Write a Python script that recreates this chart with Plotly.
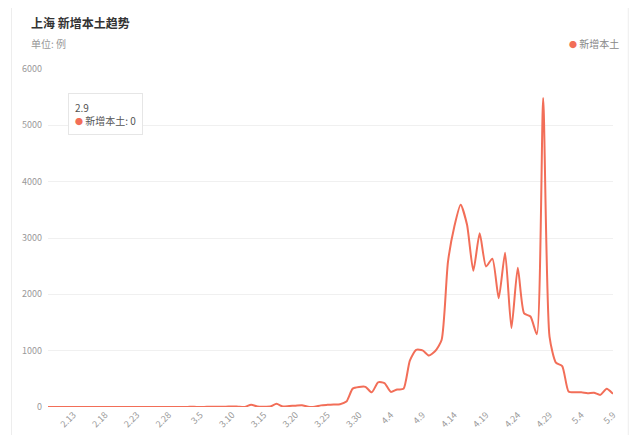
import plotly.graph_objects as go

# ---- data ----
feb_dates = [f"2.{d}" for d in range(9, 29)]
mar_dates = [f"3.{d}" for d in range(1, 32)]
apr_dates = [f"4.{d}" for d in range(1, 31)]
may_dates = [f"5.{d}" for d in range(1, 10)]
dates = feb_dates + mar_dates + apr_dates + may_dates

feb_vals = [0, 0, 0, 0, 0, 0, 0, 0, 0, 0, 0, 0, 0, 0, 0, 0, 0, 0, 1, 0]
mar_vals = [1, 2, 2, 3, 0, 3, 4, 3, 4, 11, 5, 1, 41, 9, 5, 8, 57, 8, 17, 24,
            31, 4, 4, 29, 38, 45, 50, 96, 326, 355, 358]
apr_vals = [260, 438, 425, 268, 311, 322, 824, 1015, 1006, 914, 994, 1189, 2573,
            3200, 3590, 3238, 2417, 3084, 2494, 2634, 1931, 2736, 1401, 2472,
            1661, 1606, 1292, 5487, 1249, 788]
may_vals = [727, 274, 260, 261, 245, 253, 215, 322, 234]
values = feb_vals + mar_vals + apr_vals + may_vals

tick_labels = ["2.13", "2.18", "2.23", "2.28", "3.5", "3.10", "3.15", "3.20", "3.25",
               "3.30", "4.4", "4.9", "4.14", "4.19", "4.24", "4.29", "5.4", "5.9"]
y_ticks = [0, 1000, 2000, 3000, 4000, 5000, 6000]

series_name = "新增本土"
title_text = "上海 新增本土趋势"
unit_text = "单位: 例"

# ---- style ----
OFF = 8  # page body margin
W, H = 640 - OFF, 435 - OFF
PL, PR, PT, PB = 47.5, 612.7, 69, 407  # plot area in window pixels
ML, MR, MT, MB = PL - OFF, W - (PR - OFF), PT - OFF, H - (PB - OFF)
LINE_COLOR = "#F26E58"
FONT = "Noto Sans CJK SC, Noto Sans, sans-serif"
pw, ph = W - ML - MR, H - MT - MB


def px_x(x):
    return (x - OFF - ML) / pw


def px_y(y):
    return 1 - (y - OFF - MT) / ph


fig = go.Figure()
fig.add_trace(go.Scatter(
    x=dates, y=values, mode="lines", name=series_name,
    line=dict(color=LINE_COLOR, width=2, shape="spline", smoothing=0.6),
    hoverinfo="skip",
))

fig.update_layout(
    width=W, height=H,
    margin=dict(l=ML, r=MR, t=MT, b=MB, autoexpand=False),
    paper_bgcolor="white", plot_bgcolor="white",
    showlegend=False,
    font=dict(family=FONT, color="#999999", size=9),
    xaxis=dict(
        type="category", range=[0, len(dates) - 1],
        tickmode="array", tickvals=tick_labels, ticktext=tick_labels,
        tickangle=-45, showgrid=False, zeroline=False, showline=False,
        ticks="", tickfont=dict(size=9, color="#999999"), automargin=False,
    ),
    yaxis=dict(
        range=[0, 6000], tickmode="array", tickvals=y_ticks,
        showgrid=True, gridcolor="#F0F0F0", gridwidth=1,
        zeroline=False, showline=False, ticks="", ticklabelstandoff=5,
        tickfont=dict(size=9, color="#999999"), automargin=False,
    ),
)

# card border
fig.add_shape(type="rect", xref="paper", yref="paper",
              x0=px_x(11), x1=px_x(628), y0=px_y(445), y1=px_y(5),
              line=dict(color="#EDEDED", width=1), fillcolor="rgba(0,0,0,0)", layer="below")

# title / unit
fig.add_annotation(xref="paper", yref="paper", x=px_x(28), y=px_y(22),
                   xanchor="left", yanchor="middle", showarrow=False,
                   text=f"<b>{title_text}</b>", font=dict(size=12, color="#333333", family=FONT))
fig.add_annotation(xref="paper", yref="paper", x=px_x(28), y=px_y(44),
                   xanchor="left", yanchor="middle", showarrow=False,
                   text=unit_text, font=dict(size=10, color="#999999", family=FONT))

# legend
fig.add_annotation(xref="paper", yref="paper", x=px_x(567), y=px_y(44),
                   xanchor="left", yanchor="middle", showarrow=False,
                   text=f"<span style='color:{LINE_COLOR};font-size:8px'>●</span> {series_name}",
                   font=dict(size=10, color="#888888", family=FONT))

# tooltip
fig.add_annotation(xref="paper", yref="paper", x=px_x(68), y=px_y(93),
                   xanchor="left", yanchor="top", showarrow=False, align="left",
                   text=(f"{dates[0]}<br><span style='color:{LINE_COLOR};font-size:8px'>●</span>"
                         f" {series_name}: {values[0]}"),
                   font=dict(size=10, color="#555555", family=FONT),
                   bgcolor="white", bordercolor="#E6E6E6", borderwidth=1, borderpad=6)

fig.write_html("out.html")
